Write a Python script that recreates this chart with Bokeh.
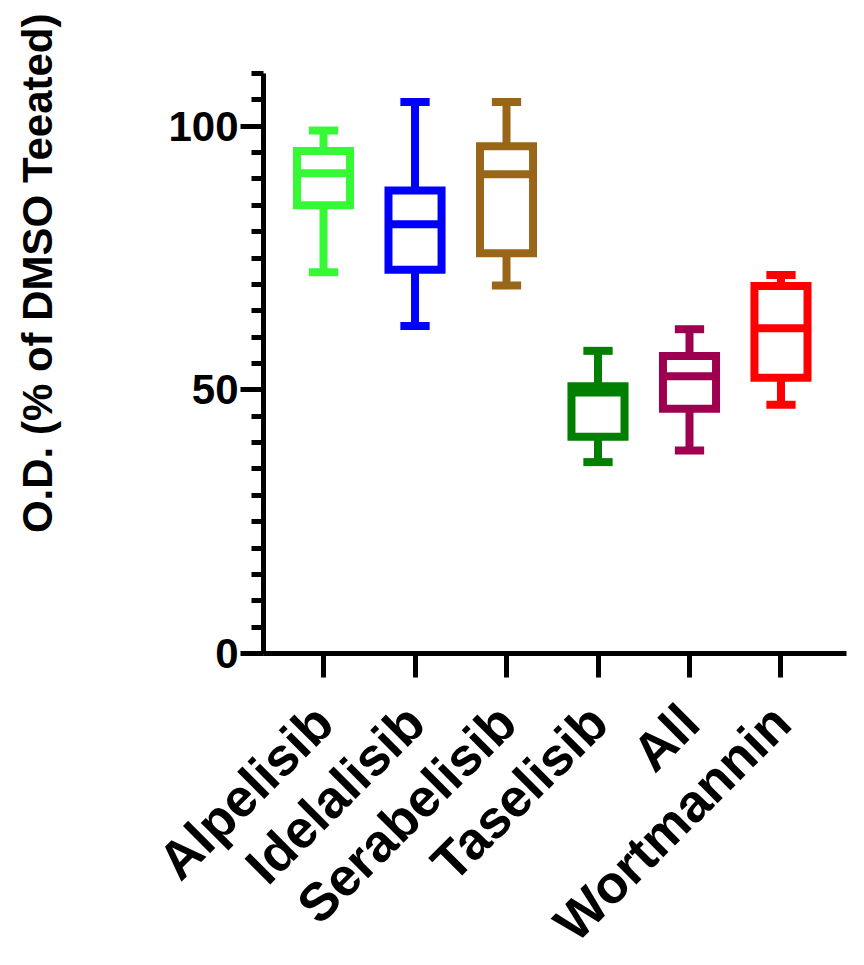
import math
from bokeh.plotting import figure
from bokeh.models import Range1d, FixedTicker, Title, ColumnDataSource
from bokeh.embed import file_html
from bokeh.resources import INLINE

categories = ["Alpelisib", "Idelalisib", "Serabelisib", "Taselisib", "All", "Wortmannin"]
whisker_low = [72.3, 62.1, 69.8, 36.3, 38.5, 47.2]
q1 = [85.0, 72.8, 75.9, 41.1, 46.4, 52.3]
median = [91.1, 81.4, 90.9, 49.5, 52.6, 61.7]
q3 = [95.3, 87.8, 96.2, 50.7, 56.4, 69.7]
whisker_high = [99.2, 104.6, 104.6, 57.4, 61.5, 71.8]
colors = ["#36F936", "#0000FF", "#996619", "#007F00", "#9E004F", "#FF0000"]
y_major = [0, 50, 100]
y_minor = list(range(0, 111, 5))
y_title = "O.D. (% of DMSO Teeated)"

FONT = "Liberation Sans"
xs = list(range(len(categories)))
bw = 0.29
cw = 0.16
src = ColumnDataSource(dict(
    x=xs,
    left=[x - bw for x in xs], right=[x + bw for x in xs],
    cl=[x - cw for x in xs], cr=[x + cw for x in xs],
    lo=whisker_low, q1=q1, med=median, q3=q3, hi=whisker_high, color=colors,
))

p = figure(frame_width=583, frame_height=580,
           min_border_left=263, min_border_right=18,
           min_border_top=73, min_border_bottom=312,
           x_range=Range1d(-0.656, 5.716), y_range=Range1d(0, 110),
           output_backend="svg", toolbar_location=None)
p.outline_line_color = None
p.xgrid.visible = False
p.ygrid.visible = False
p.background_fill_color = "white"
p.border_fill_color = "white"

LW = 8
p.segment(x0="x", y0="q3", x1="x", y1="hi", source=src, line_color="color", line_width=LW)
p.segment(x0="x", y0="lo", x1="x", y1="q1", source=src, line_color="color", line_width=LW)
p.segment(x0="cl", y0="hi", x1="cr", y1="hi", source=src, line_color="color", line_width=LW)
p.segment(x0="cl", y0="lo", x1="cr", y1="lo", source=src, line_color="color", line_width=LW)
p.quad(left="left", right="right", bottom="q1", top="q3", source=src,
       fill_color="white", fill_alpha=0, line_color="color", line_width=LW, line_join="miter")
p.segment(x0="left", y0="med", x1="right", y1="med", source=src, line_color="color", line_width=LW)

for ax in (p.xaxis[0], p.yaxis[0]):
    ax.axis_line_width = 5
    ax.axis_line_color = "black"
    ax.major_tick_line_width = 5
    ax.minor_tick_line_width = 5
    ax.major_tick_in = 0
    ax.minor_tick_in = 0
    ax.major_label_text_font = FONT
    ax.major_label_text_font_style = "bold"
    ax.major_label_text_color = "black"

p.yaxis.ticker = FixedTicker(ticks=y_major, minor_ticks=y_minor)
p.yaxis.major_tick_out = 23
p.yaxis.minor_tick_out = 12
p.yaxis.major_label_text_font_size = "42px"
p.yaxis.major_label_standoff = 2

p.xaxis.ticker = FixedTicker(ticks=xs, minor_ticks=[])
p.xaxis.major_label_overrides = {i: c for i, c in enumerate(categories)}
p.xaxis.major_tick_out = 24
p.xaxis.minor_tick_out = 0
p.xaxis.major_label_text_font_size = "53px"
p.xaxis.major_label_orientation = math.pi / 4
p.xaxis.major_label_standoff = 36

# blank spacer panel between the y axis and its title
spacer = Title(text=" ", standoff=90, text_font_size="10px", text_font=FONT)
p.add_layout(spacer, "left")
ytitle = Title(text=y_title, align="right", offset=-60, standoff=4,
               text_font=FONT, text_font_style="bold", text_font_size="42px",
               text_color="black")
p.add_layout(ytitle, "left")

open("out.html", "w").write(file_html(p, INLINE))
